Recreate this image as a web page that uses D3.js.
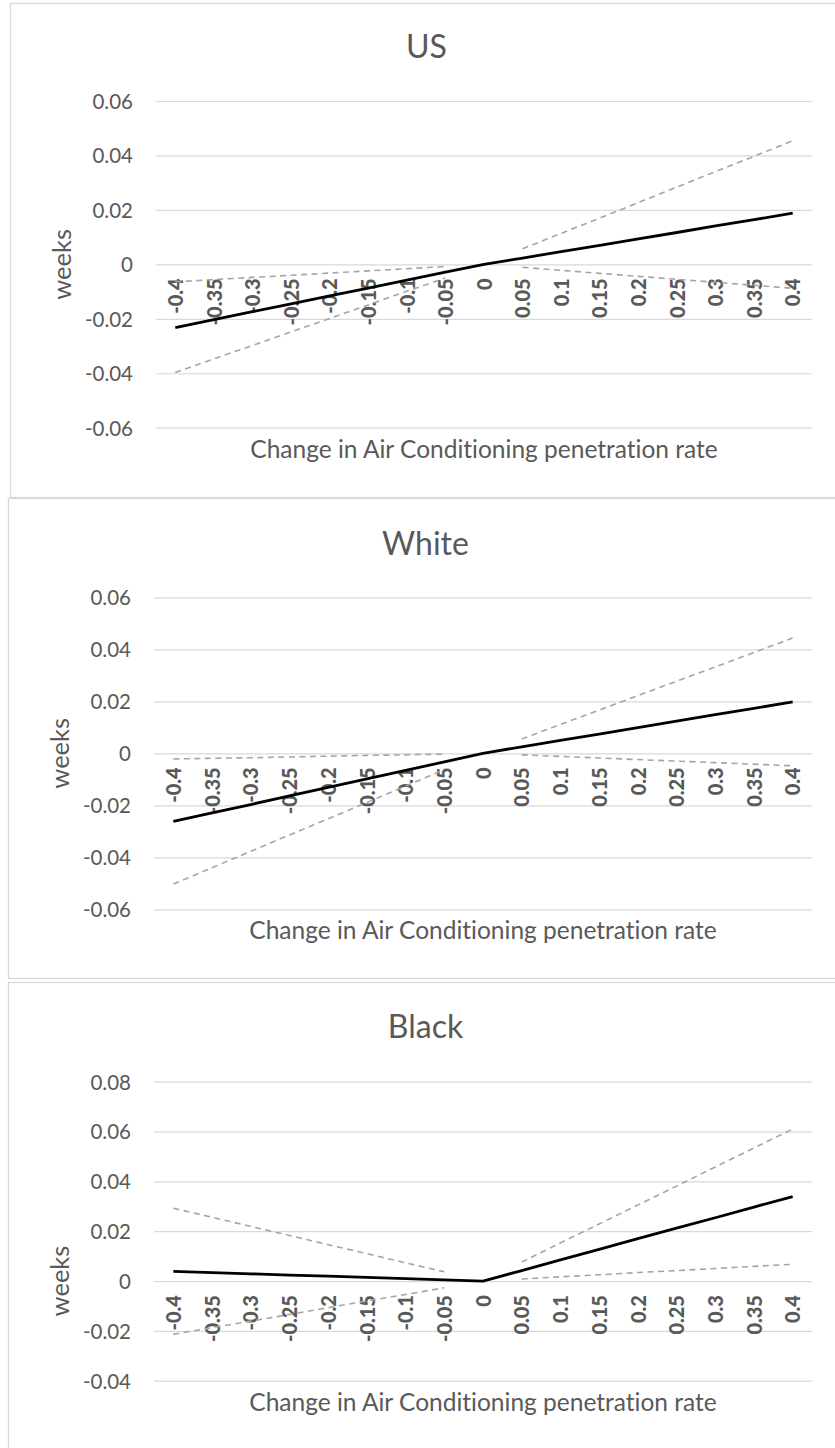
<!DOCTYPE html>
<html>
<head>
<meta charset="utf-8">
<script src="https://cdn.jsdelivr.net/npm/d3@7"></script>
<style>
  html, body { margin: 0; padding: 0; background: #fff; }
  svg { display: block; font-family: Lato, "Open Sans", sans-serif;
        font-variant-ligatures: none; font-feature-settings: "liga" 0, "clig" 0; }
  .cat-label { font-family: Lato, sans-serif; font-weight: 900; }
</style>
</head>
<body>
<svg id="chart" width="835" height="1448"></svg>
<script>
// Change in AC penetration rate (x categories)
const categories = ["-0.4", "-0.35", "-0.3", "-0.25", "-0.2", "-0.15", "-0.1", "-0.05", "0",
                    "0.05", "0.1", "0.15", "0.2", "0.25", "0.3", "0.35", "0.4"];

// US: point estimate and the two confidence bounds (no bound at 0)
const usEstimate = [-0.0232, -0.0203, -0.0174, -0.0145, -0.0116, -0.0087, -0.0058, -0.0029, 0,
                    0.0023, 0.0047, 0.0070, 0.0094, 0.0117, 0.0141, 0.0164, 0.0188];
const usBoundA   = [-0.0397, -0.0347, -0.0298, -0.0248, -0.0199, -0.0149, -0.0099, -0.0050, null,
                    0.0057, 0.0114, 0.0170, 0.0227, 0.0284, 0.0341, 0.0397, 0.0454];
const usBoundB   = [-0.0064, -0.0056, -0.0048, -0.0040, -0.0032, -0.0024, -0.0016, -0.0008, null,
                    -0.0011, -0.0022, -0.0033, -0.0044, -0.0055, -0.0066, -0.0077, -0.0088];
const usTicks    = [-0.06, -0.04, -0.02, 0, 0.02, 0.04, 0.06];

// White
const whiteEstimate = [-0.0262, -0.0229, -0.0197, -0.0164, -0.0131, -0.0098, -0.0066, -0.0033, 0,
                       0.0025, 0.0050, 0.0074, 0.0099, 0.0124, 0.0149, 0.0173, 0.0198];
const whiteBoundA   = [-0.0503, -0.0440, -0.0377, -0.0314, -0.0252, -0.0189, -0.0126, -0.0063, null,
                       0.0055, 0.0111, 0.0166, 0.0222, 0.0277, 0.0332, 0.0388, 0.0443];
const whiteBoundB   = [-0.0022, -0.0019, -0.0017, -0.0014, -0.0011, -0.0008, -0.0006, -0.0003, null,
                       -0.0006, -0.0012, -0.0018, -0.0024, -0.0030, -0.0036, -0.0042, -0.0048];
const whiteTicks    = [-0.06, -0.04, -0.02, 0, 0.02, 0.04, 0.06];

// Black
const blackEstimate = [0.0039, 0.0034, 0.0029, 0.0024, 0.0020, 0.0015, 0.0010, 0.0005, 0,
                       0.0042, 0.0085, 0.0127, 0.0170, 0.0212, 0.0254, 0.0297, 0.0339];
const blackBoundA   = [-0.0214, -0.0187, -0.0161, -0.0134, -0.0107, -0.0080, -0.0054, -0.0027, null,
                       0.0076, 0.0153, 0.0229, 0.0305, 0.0381, 0.0458, 0.0534, 0.0610];
const blackBoundB   = [0.0292, 0.0256, 0.0219, 0.0183, 0.0146, 0.0110, 0.0073, 0.0037, null,
                       0.0008, 0.0017, 0.0025, 0.0034, 0.0042, 0.0050, 0.0059, 0.0067];
const blackTicks    = [-0.04, -0.02, 0, 0.02, 0.04, 0.06, 0.08];

const xTitle = "Change in Air Conditioning penetration rate";
const yTitle = "weeks";

const TEXT = "#595959", GRID = "#d9d9d9", BAND = "#a5a5a5";

const panels = [
  { title: "US",    est: usEstimate,    a: usBoundA,    b: usBoundB,    ticks: usTicks,
    box: { x: 10.5, y: 3.5, w: 840, h: 494 },
    plot: { left: 156, right: 812, top: 101, bottom: 427.7 },
    titleY: 58, labelX: 133, yTitleX: 62, xTitleY: 458 },
  { title: "White", est: whiteEstimate, a: whiteBoundA, b: whiteBoundB, ticks: whiteTicks,
    box: { x: 8.5, y: 498.5, w: 842, h: 480 },
    plot: { left: 154, right: 812, top: 597.3, bottom: 909.3 },
    titleY: 555, labelX: 131, yTitleX: 60, xTitleY: 939 },
  { title: "Black", est: blackEstimate, a: blackBoundA, b: blackBoundB, ticks: blackTicks,
    box: { x: 8.5, y: 982.5, w: 842, h: 480 },
    plot: { left: 154, right: 812, top: 1081.7, bottom: 1380.7 },
    titleY: 1038, labelX: 131, yTitleX: 60, xTitleY: 1411 }
];

const svg = d3.select("#chart");
const fmt = d => d === 0 ? "0" : d.toFixed(2);

panels.forEach(p => {
  const g = svg.append("g");

  // chart area frame
  g.append("rect")
    .attr("x", p.box.x).attr("y", p.box.y)
    .attr("width", p.box.w).attr("height", p.box.h)
    .attr("fill", "#fff").attr("stroke", GRID).attr("stroke-width", 1.3);

  const x = d3.scalePoint().domain(categories)
    .range([p.plot.left, p.plot.right]).padding(0.5);
  const y = d3.scaleLinear().domain(d3.extent(p.ticks))
    .range([p.plot.bottom, p.plot.top]);

  // title
  g.append("text")
    .attr("x", p.box.x + p.box.w / 2 - 4).attr("y", p.titleY)
    .attr("text-anchor", "middle").attr("fill", TEXT)
    .style("font-size", "32px").text(p.title);

  // value axis: gridlines + labels
  const yAxis = d3.axisLeft(y).tickValues(p.ticks).tickFormat(fmt)
    .tickSize(-(p.plot.right - p.plot.left)).tickPadding(0);
  const ya = g.append("g").attr("transform", `translate(${p.plot.left},0)`).call(yAxis);
  ya.attr("font-family", null);
  ya.select(".domain").remove();
  ya.selectAll(".tick line").attr("stroke", GRID).attr("stroke-width", 1.2);
  ya.selectAll(".tick text")
    .attr("x", p.labelX - p.plot.left).attr("dy", "0.36em")
    .attr("fill", TEXT).style("font-size", "20.5px");

  // category axis: rotated bold labels hanging below the zero line
  const xa = g.append("g").attr("transform", `translate(0,${y(0)})`)
    .call(d3.axisBottom(x).tickSize(0).tickPadding(0));
  xa.attr("font-family", null);
  xa.select(".domain").remove();
  xa.selectAll(".tick text")
    .attr("class", "cat-label")
    .attr("transform", "rotate(-90)")
    .attr("x", -14).attr("y", 0).attr("dy", "0.36em")
    .attr("text-anchor", "end")
    .attr("fill", TEXT).style("font-size", "20px");

  // axis titles
  g.append("text")
    .attr("x", (p.plot.left + p.plot.right) / 2).attr("y", p.xTitleY)
    .attr("text-anchor", "middle").attr("fill", TEXT)
    .style("font-size", "24.5px").text(xTitle);
  g.append("text")
    .attr("transform", `translate(${p.yTitleX},${y(0)}) rotate(-90)`)
    .attr("dy", "0.36em")
    .attr("text-anchor", "middle").attr("fill", TEXT)
    .style("font-size", "25.5px").text(yTitle);

  const line = d3.line()
    .defined(d => d.v !== null)
    .x(d => x(d.c)).y(d => y(d.v));
  const rows = arr => categories.map((c, i) => ({ c, v: arr[i] }));

  [p.a, p.b].forEach(series => {
    g.append("path").datum(rows(series))
      .attr("d", line).attr("fill", "none")
      .attr("stroke", BAND).attr("stroke-width", 1.6)
      .attr("stroke-dasharray", "6,4.5");
  });

  g.append("path").datum(rows(p.est))
    .attr("d", line).attr("fill", "none")
    .attr("stroke", "#000").attr("stroke-width", 2.8)
    .attr("stroke-linejoin", "round");
});
</script>
</body>
</html>
